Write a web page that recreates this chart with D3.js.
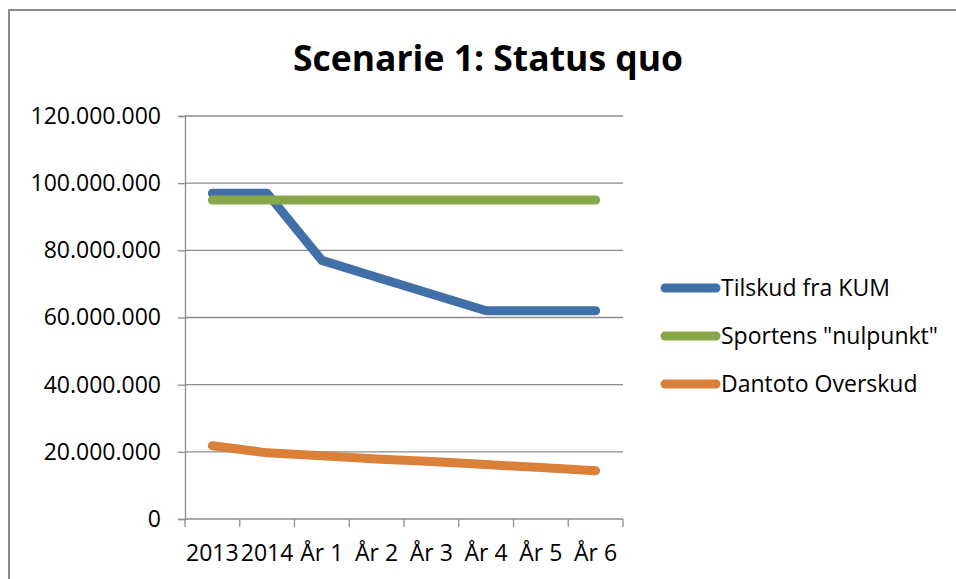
<!DOCTYPE html>
<html>
<head>
<meta charset="utf-8">
<script src="https://cdn.jsdelivr.net/npm/d3@7"></script>
<style>
  body { margin: 0; background: #fff; overflow: hidden; }
  svg { display: block; }
  text { font-family: "Open Sans", sans-serif; fill: #000; }
</style>
</head>
<body>
<script>
// chart data
const categories = ["2013", "2014", "År 1", "År 2", "År 3", "År 4", "År 5", "År 6"];
const seriesNames = ["Tilskud fra KUM", "Sportens \"nulpunkt\"", "Dantoto Overskud"];
const tilskud = [97000000, 97000000, 77000000, 72000000, 67000000, 62000000, 62000000, 62000000];
const nulpunkt = [95000000, 95000000, 95000000, 95000000, 95000000, 95000000, 95000000, 95000000];
const dantoto = [21800000, 19700000, 18800000, 17900000, 17100000, 16200000, 15300000, 14400000];
const yTicks = [0, 20000000, 40000000, 60000000, 80000000, 100000000, 120000000];
const colors = ["#4170a8", "#87a74a", "#db8039"];

document.addEventListener("DOMContentLoaded", () => {
    const width = 956;
    const height = 579;

    const svg = d3.select("body").append("svg")
        .attr("width", width)
        .attr("height", height);

    // outer chart border: only top and left edges are inside the crop
    svg.append("path")
        .attr("d", "M9," + height + "V10H" + width)
        .attr("fill", "none")
        .attr("stroke", "#8c8c8c")
        .attr("stroke-width", 2);

    const x = d3.scaleBand().domain(categories).range([185, 623]);
    const y = d3.scaleLinear().domain([0, 120000000]).range([519, 116]);

    const fmt = v => d3.format(",")(v).replace(/,/g, ".");

    // gridlines
    svg.append("g")
        .selectAll("line")
        .data(yTicks.slice(1))
        .enter().append("line")
        .attr("x1", 185).attr("x2", 623)
        .attr("y1", d => y(d)).attr("y2", d => y(d))
        .attr("stroke", "#8c8c8c").attr("stroke-width", 1.3);

    // y axis
    const yAxis = svg.append("g")
        .attr("transform", "translate(185,0)")
        .call(d3.axisLeft(y).tickValues(yTicks).tickFormat(fmt).tickSize(7).tickPadding(17));
    yAxis.select(".domain").attr("stroke", "#8c8c8c").attr("stroke-width", 1.3);
    yAxis.selectAll(".tick line").attr("stroke", "#8c8c8c").attr("stroke-width", 1.3);
    yAxis.selectAll("text").attr("font-size", 23).attr("font-family", "Open Sans").attr("fill", "#000");

    // x axis, ticks between categories
    const xAxis = svg.append("g")
        .attr("transform", "translate(0,519)");
    xAxis.append("line")
        .attr("x1", 185).attr("x2", 623)
        .attr("stroke", "#8c8c8c").attr("stroke-width", 1.3);
    const bounds = categories.map(c => x(c)).concat([x.range()[1]]);
    xAxis.selectAll(".xt")
        .data(bounds)
        .enter().append("line")
        .attr("class", "xt")
        .attr("x1", d => d).attr("x2", d => d)
        .attr("y1", 0).attr("y2", 8)
        .attr("stroke", "#8c8c8c").attr("stroke-width", 1.3);
    xAxis.selectAll("text")
        .data(categories)
        .enter().append("text")
        .attr("x", d => x(d) + x.bandwidth() / 2)
        .attr("y", 42)
        .attr("text-anchor", "middle")
        .attr("font-size", 23)
        .text(d => d);

    // lines
    const line = d3.line()
        .x((d, i) => x(categories[i]) + x.bandwidth() / 2)
        .y(d => y(d));

    const allSeries = [tilskud, nulpunkt, dantoto];
    // draw order: blue, green over it, orange
    svg.append("g")
        .selectAll("path")
        .data(allSeries)
        .enter().append("path")
        .attr("d", line)
        .attr("fill", "none")
        .attr("stroke", (d, i) => colors[i])
        .attr("stroke-width", 9)
        .attr("stroke-linecap", "round")
        .attr("stroke-linejoin", "round");

    // title
    svg.append("text")
        .attr("x", 488).attr("y", 71)
        .attr("text-anchor", "middle")
        .attr("font-size", 35.5)
        .attr("font-weight", "bold")
        .text("Scenarie 1: Status quo");

    // legend
    const legendY = [288, 336, 384];
    const lg = svg.append("g");
    lg.selectAll("line")
        .data(seriesNames)
        .enter().append("line")
        .attr("x1", 665).attr("x2", 716)
        .attr("y1", (d, i) => legendY[i]).attr("y2", (d, i) => legendY[i])
        .attr("stroke", (d, i) => colors[i])
        .attr("stroke-width", 9)
        .attr("stroke-linecap", "round");
    lg.selectAll("text")
        .data(seriesNames)
        .enter().append("text")
        .attr("x", 721)
        .attr("y", (d, i) => legendY[i] + 8)
        .attr("font-size", 23)
        .text(d => d);
});
</script>
</body>
</html>
